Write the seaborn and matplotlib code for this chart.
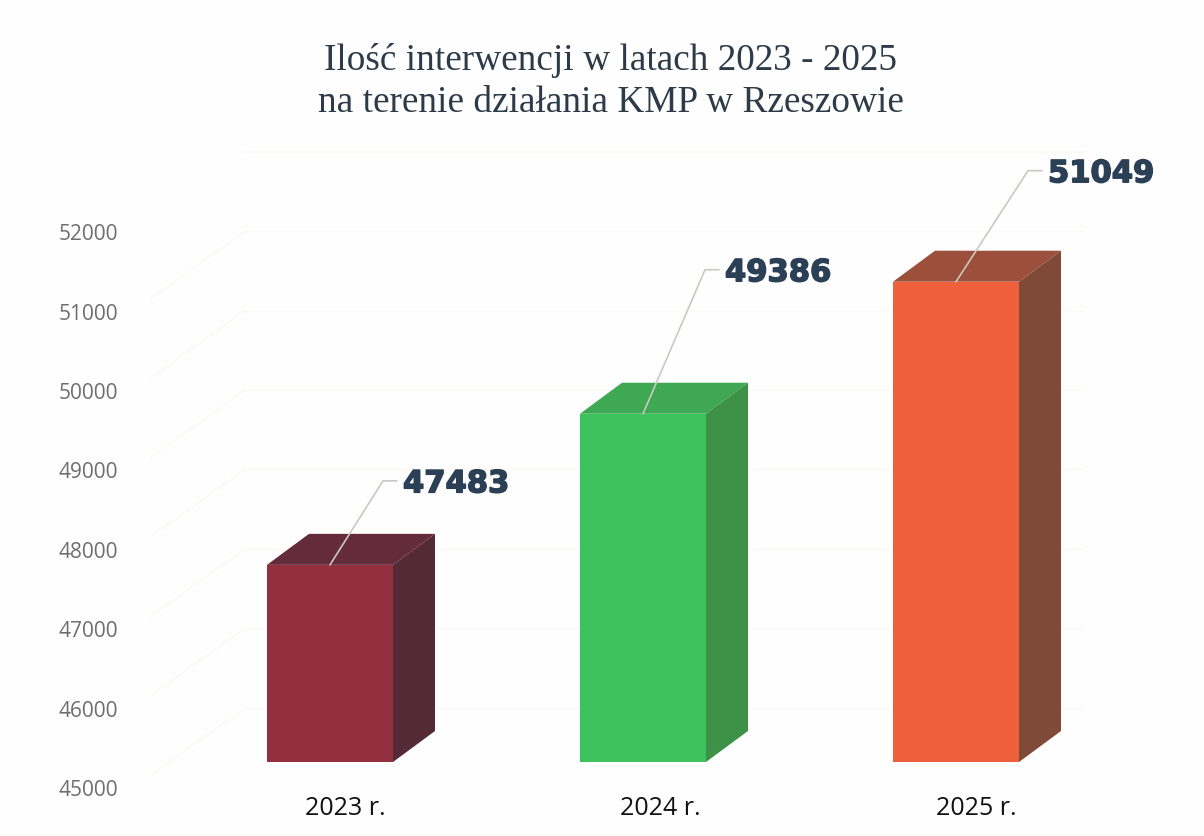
import matplotlib
matplotlib.use("Agg")
import matplotlib.pyplot as plt
import matplotlib.patheffects as pe
import pandas as pd
import seaborn as sns

# ---- data ----
years = ["2023 r.", "2024 r.", "2025 r."]
values = [47483, 49386, 51049]
y_ticks = [45000, 46000, 47000, 48000, 49000, 50000, 51000, 52000]
title = "Ilość interwencji w latach 2023 - 2025\nna terenie działania KMP w Rzeszowie"

# ---- style ----
front_colors = ["#93303f", "#3dc25e", "#ee5f3c"]
top_colors = ["#642b3a", "#3ea852", "#9c4f3a"]
side_colors = ["#532a35", "#3d9248", "#7f4a38"]
leader_offsets = [(53, 84), (62, 144), (72, 111)]   # elbow of the leader, px from bar top
W, H, DPI = 1204, 837, 100
PX_PER_UNIT = 0.0794
PX_PER_CAT = 313
DEPTH_X, DEPTH_Y = 42, 31
GRID = "#faf9f3"
BG = "#fefefe"

sns.set_theme(style="white")
plt.rcParams["font.family"] = ["Open Sans", "DejaVu Sans"]

fig = plt.figure(figsize=(W / DPI, H / DPI), dpi=DPI, facecolor=BG)


def axes_px(left, top, right, bottom):
    return fig.add_axes([left / W, 1 - bottom / H, (right - left) / W, (bottom - top) / H])


# back wall: gridlines, value axis and category labels
wall = axes_px(245, 788 - 8000 * PX_PER_UNIT, 1085, 788)
wall.set_facecolor("none")
wall.set_ylim(45000, 53000)
wall.set_xlim((245 - 345) / 315.5, (1085 - 345) / 315.5)
wall.set_yticks(y_ticks)
wall.set_xticks(range(len(years)))
wall.set_xticklabels(years, fontsize=18, color="#111111")
wall.tick_params(axis="y", length=0, pad=127 * 72 / DPI, labelsize=15, labelcolor="#6e6e6e")
wall.tick_params(axis="x", length=0, pad=6)
wall.grid(axis="y", color=GRID, lw=1)
for name, spine in wall.spines.items():
    spine.set_visible(name == "top")
    spine.set_color(GRID)
for t in y_ticks[1:]:
    wall.plot([-95 / 840, 0], [t - 68 / PX_PER_UNIT, t], color=GRID, lw=1,
              transform=wall.get_yaxis_transform(), clip_on=False)

# bars on the front plane
ax = axes_px(0, 0, W, 763)
ax.patch.set_visible(False)
df = pd.DataFrame({"rok": years, "interwencje": values})
sns.barplot(data=df, x="rok", y="interwencje", hue="rok", palette=front_colors,
            width=126 / PX_PER_CAT, saturation=1, legend=False, ax=ax, linewidth=0)
ax.set_xlim(-330 / PX_PER_CAT, (W - 330) / PX_PER_CAT)
ax.set_ylim(45000, 45000 + 763 / PX_PER_UNIT)
ax.set_axis_off()

dx = DEPTH_X / PX_PER_CAT
dy = DEPTH_Y / PX_PER_UNIT
for bar, value, top_c, side_c, (ox, oy) in zip(ax.patches, values, top_colors, side_colors, leader_offsets):
    l, r = bar.get_x(), bar.get_x() + bar.get_width()
    b = 45000
    ax.fill([l, r, r + dx, l + dx], [value, value, value + dy, value + dy], color=top_c, lw=0)
    ax.fill([r, r + dx, r + dx, r], [b, b + dy, value + dy, value], color=side_c, lw=0)
    cx = (l + r) / 2
    ex, ey = cx + ox / PX_PER_CAT, value + oy / PX_PER_UNIT
    ax.plot([cx, ex, ex + 14 / PX_PER_CAT], [value, ey, ey], color="#c9c9c2", lw=1.2)
    ax.text(ex + 20 / PX_PER_CAT, ey, str(value), ha="left", va="center_baseline",
            family="DejaVu Sans", fontweight="bold", fontsize=22, color="#2b3f55",
            path_effects=[pe.withStroke(linewidth=1.1, foreground="#2b3f55")])

fig.text(611 / W, 1 - 81.5 / H, title, ha="center", va="center", family="Liberation Serif",
         fontsize=26.8, color="#2d3b49", linespacing=1.27)

fig.savefig("out.png", dpi=DPI, facecolor=BG)
